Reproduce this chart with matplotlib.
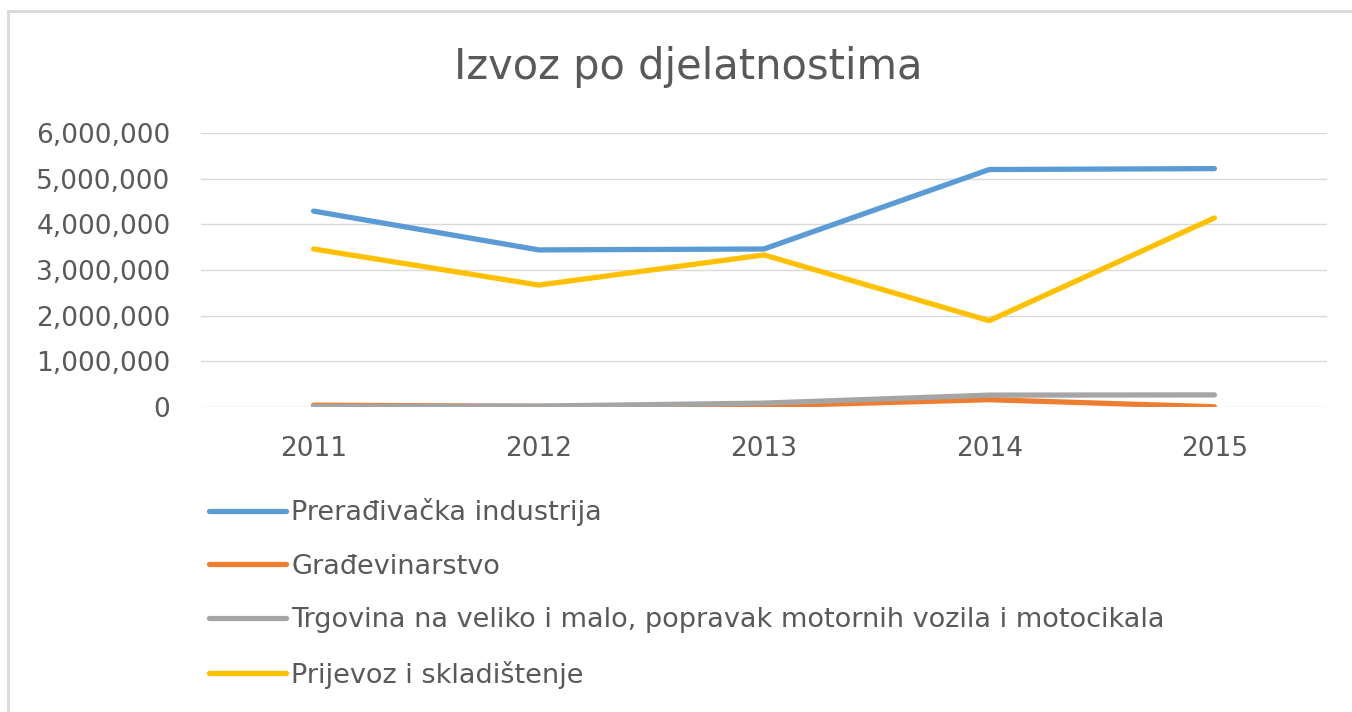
import numpy as np
import matplotlib
matplotlib.use("Agg")
import matplotlib.pyplot as plt
from matplotlib.ticker import FuncFormatter
from matplotlib.lines import Line2D

# values
years = ["2011", "2012", "2013", "2014", "2015"]
preradjivacka = [4290000, 3440000, 3460000, 5200000, 5220000]
gradjevinarstvo = [40000, 15000, 25000, 160000, 5000]
trgovina = [10000, 20000, 85000, 260000, 265000]
prijevoz = [3460000, 2670000, 3330000, 1890000, 4140000]

labels = [
    "Prerađivačka industrija",
    "Građevinarstvo",
    "Trgovina na veliko i malo, popravak motornih vozila i motocikala",
    "Prijevoz i skladištenje",
]
colors = ["#5B9BD5", "#ED7D31", "#A5A5A5", "#FFC000"]
text_color = "#595959"

plt.rcParams['font.family'] = ['DejaVu Sans']

fig = plt.figure(figsize=(13.52, 7.12), dpi=100)
ax = fig.add_axes([201 / 1352, 1 - 407 / 712, (1327 - 201) / 1352, (407 - 133) / 712])

# chart border: only top and left edges are visible in the crop
bx, by = 8 / 1352, 1 - 11 / 712
fig.lines.append(Line2D([bx, 1.0], [by, by], transform=fig.transFigure,
                        color="#D9D9D9", linewidth=2))
fig.lines.append(Line2D([bx, bx], [0.0, by], transform=fig.transFigure,
                        color="#D9D9D9", linewidth=2))

x = np.arange(len(years))
series = [preradjivacka, gradjevinarstvo, trgovina, prijevoz]
for vals, lab, col in zip(series, labels, colors):
    ax.plot(x, vals, color=col, linewidth=3.8, label=lab,
            solid_capstyle="round", solid_joinstyle="round")

ax.set_xlim(-0.5, 4.5)
ax.set_ylim(0, 6000000)
ax.set_yticks(np.arange(0, 6000001, 1000000))
ax.yaxis.set_major_formatter(FuncFormatter(lambda v, p: f"{v:,.0f}"))
ax.set_xticks(x)
ax.set_xticklabels(years)
ax.grid(axis='y', color="#D9D9D9", linewidth=1)
ax.set_axisbelow(True)
for s in ax.spines.values():
    s.set_visible(False)
ax.tick_params(axis='both', length=0, labelsize=19, colors=text_color)
ax.tick_params(axis='y', pad=22)
ax.tick_params(axis='x', pad=21)

fig.text(688 / 1352, 1 - 67 / 712, "Izvoz po djelatnostima", ha="center",
         va="center", fontsize=30, color=text_color)

handles, labs = ax.get_legend_handles_labels()
leg = fig.legend(handles, labs, loc="upper left",
                 bbox_to_anchor=(209 / 1352, 1 - 498 / 712),
                 frameon=False, fontsize=19.5, handlelength=2.85,
                 handletextpad=0.18, labelspacing=1.02, borderpad=0,
                 borderaxespad=0)
for t in leg.get_texts():
    t.set_color(text_color)

fig.savefig("out.png", dpi=100)
